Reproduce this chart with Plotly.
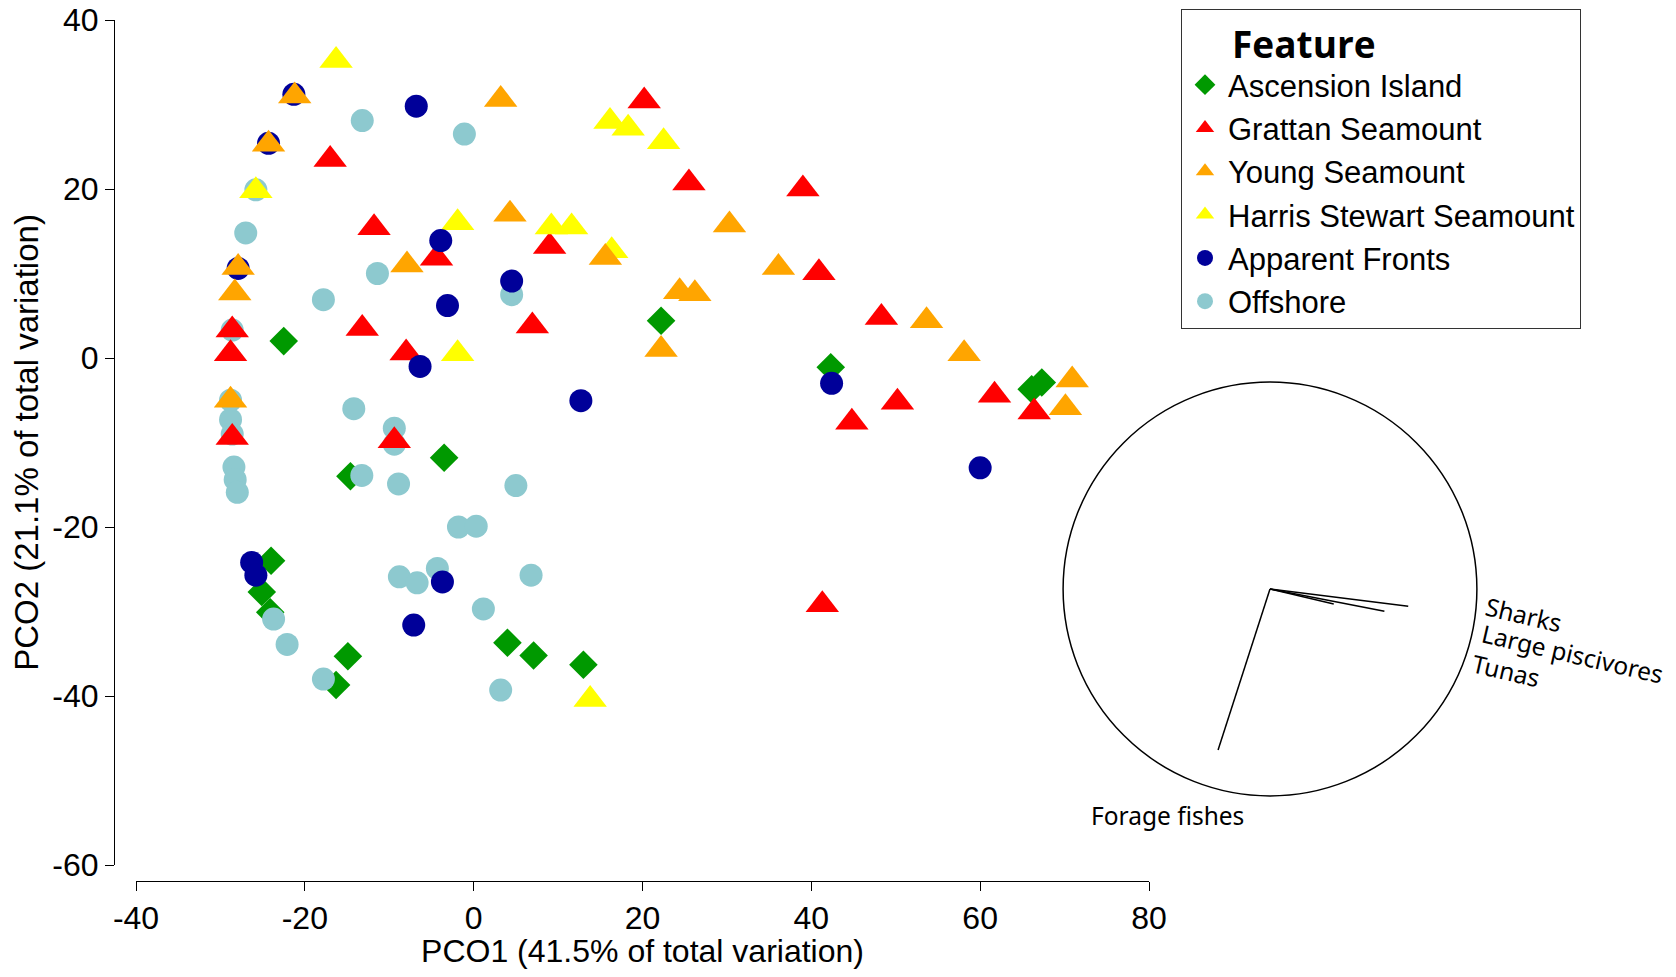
import plotly.graph_objects as go

# PCO scores per feature
ascension_x = [-22.5, 22.2, 42.3, 66.1, 67.3, -14.6, -3.5, -24.0, -25.1, -24.1, -14.9, -16.3, 4.0, 7.1, 13.0]
ascension_y = [2.0, 4.4, -1.1, -3.7, -2.9, -14.0, -11.8, -24.0, -27.7, -30.1, -35.3, -38.7, -33.7, -35.2, -36.3]

grattan_x = [20.2, 25.5, 39.0, 40.9, 48.3, 50.2, 61.7, 66.4, 44.8, 41.3, -17.0, -11.8, 9.0, -4.4,
             -13.2, 6.95, -28.6, -28.8, -8.0, -28.6, -9.4]
grattan_y = [30.4, 20.7, 20.0, 10.1, 4.8, -5.25, -4.4, -6.4, -7.6, -29.2, 23.5, 15.4, 13.2, 11.8,
             3.5, 3.8, 3.3, 0.5, 0.6, -9.4, -9.8]

young_x = [-21.2, -24.3, 3.2, 4.3, 30.3, -7.9, -27.9, -28.3, 15.6, 36.1, 24.4, 26.2, 22.2, 53.65,
           58.1, 70.9, 70.1, -28.8]
young_y = [31.0, 25.3, 30.6, 17.0, 15.75, 11.0, 10.7, 7.7, 11.9, 10.7, 7.85, 7.6, 1.0, 4.4,
           0.5, -2.6, -5.9, -5.0]

harris_x = [-16.3, 16.15, 18.3, 22.5, -25.8, -1.9, 9.2, 11.6, 16.35, -1.9, 13.8]
harris_y = [35.2, 28.0, 27.2, 25.6, 19.8, 16.0, 15.5, 15.5, 12.7, 0.5, -40.4]

fronts_x = [-21.3, -24.3, -6.8, -3.9, 4.5, -3.1, -27.9, -6.35, 12.7, 42.4, 60.0, -26.3, -25.8, -3.7, -7.1]
fronts_y = [31.2, 25.4, 29.8, 13.9, 9.1, 6.2, 10.6, -1.0, -5.05, -3.0, -13.0, -24.2, -25.7, -26.5, -31.6]

offshore_x = [-13.2, -1.1, -25.8, -27.0, -11.4, 4.5, -17.8, -28.6, -28.8, -28.8, -28.6, -14.2, -9.4,
              -9.4, -13.25, -8.9, 5.0, -28.4, -28.25, -28.0, -1.8, 0.3, -8.8, -6.7, -4.3, 6.8, 1.15,
              -23.7, -22.1, -17.8, 3.2]
offshore_y = [28.1, 26.5, 19.9, 14.8, 10.0, 7.5, 6.9, 3.3, -5.0, -7.3, -9.0, -6.0, -8.3,
              -10.2, -13.9, -14.9, -15.1, -12.9, -14.4, -15.9, -20.0, -19.9, -25.9, -26.6, -24.9, -25.7, -29.7,
              -30.9, -33.9, -38.0, -39.3]

# vector overlay (correlations with PCO axes)
vector_names = ["Sharks", "Large piscivores", "Tunas", "Forage fishes"]
vector_x = [0.668, 0.553, 0.308, -0.251]
vector_y = [-0.083, -0.108, -0.073, -0.778]

x_ticks = [-40, -20, 0, 20, 40, 60, 80]
x_ticktext = ["-40", "-20", "0", "20", "40", "60", "80"]
y_ticks = [-60, -40, -20, 0, 20, 40]
y_ticktext = ["-60", "-40", "-20", "0", "20", "40"]

# the page has an 8px body margin, so the figure is a bit smaller than the window
OFF = 8
W, H = 1676 - 2 * OFF, 977 - 2 * OFF
AXIS_FONT = "Liberation Sans, Arial, sans-serif"


def fx(page_x):
    return (page_x - OFF) / W


def fy(page_y):
    return 1 - (page_y - OFF) / H


groups = [
    # name, x, y, symbol, colour, size, legend rank
    ("Ascension Island", ascension_x, ascension_y, "diamond", "#009900", 22, 1),
    ("Offshore", offshore_x, offshore_y, "circle", "#8DC9CF", 23, 6),
    ("Grattan Seamount", grattan_x, grattan_y, "triangle-up", "#FF0000", 29, 2),
    ("Harris Stewart Seamount", harris_x, harris_y, "triangle-up", "#FFFF00", 29, 4),
    ("Apparent Fronts", fronts_x, fronts_y, "circle", "#000099", 23, 5),
    ("Young Seamount", young_x, young_y, "triangle-up", "#FFA500", 29, 3),
]

fig = go.Figure()
for name, xs, ys, symbol, colour, size, rank in groups:
    fig.add_trace(go.Scatter(
        x=xs, y=ys, mode="markers", name=name, legendrank=rank,
        marker=dict(symbol=symbol, color=colour, size=size, line=dict(width=0)),
        cliponaxis=False,
    ))

# vectors on their own invisible axes (unit circle centred at page (1270, 589), r = 207px)
cx, cy, rad = 1270, 589, 206.9
for vx, vy in zip(vector_x, vector_y):
    fig.add_trace(go.Scatter(
        x=[0, vx], y=[0, vy], mode="lines", xaxis="x2", yaxis="y2",
        line=dict(color="black", width=1.5), showlegend=False, hoverinfo="skip",
    ))

fig.add_shape(type="circle", xref="x2", yref="y2", x0=-1, x1=1, y0=-1, y1=1,
              line=dict(color="black", width=1.5))

label_pos = {
    "Sharks": (1.225, -0.125, 13),
    "Large piscivores": (1.462, -0.31, 13),
    "Tunas": (1.142, -0.395, 13),
    "Forage fishes": (-0.496, -1.096, 0),
}
for name in vector_names:
    lx, ly, ang = label_pos[name]
    fig.add_annotation(x=lx, y=ly, xref="x2", yref="y2", text=name, showarrow=False,
                       textangle=ang, font=dict(family="Noto Sans", size=24.5, color="black"))

axis_common = dict(
    showline=True, linecolor="black", linewidth=1, ticks="outside", ticklen=9,
    tickcolor="black", showgrid=False, zeroline=False, automargin=False,
    ticklabeloverflow="allow",
    tickfont=dict(family=AXIS_FONT, size=32, color="black"),
)

fig.update_layout(
    width=W, height=H, autosize=False,
    margin=dict(l=0, r=0, t=0, b=0, autoexpand=False),
    paper_bgcolor="white", plot_bgcolor="rgba(0,0,0,0)",
    xaxis=dict(
        domain=[fx(136), fx(1149)], range=[-40, 80], tickvals=x_ticks, ticktext=x_ticktext,
        anchor="free", position=fy(881),
        title=dict(text="PCO1 (41.5% of total variation)", standoff=12,
                   font=dict(family=AXIS_FONT, size=32, color="black")),
        **axis_common,
    ),
    yaxis=dict(
        domain=[fy(865), fy(20)], range=[-60, 40], tickvals=y_ticks, ticktext=y_ticktext,
        anchor="free", position=fx(114),
        title=dict(text="PCO2 (21.1% of total variation)", standoff=11,
                   font=dict(family=AXIS_FONT, size=33, color="black")),
        **axis_common,
    ),
    xaxis2=dict(domain=[fx(1005), 1.0],
                range=[(1005 - cx) / rad, (OFF + W - cx) / rad],
                visible=False, anchor="y2", automargin=False),
    yaxis2=dict(domain=[0.0, 1.0],
                range=[-(OFF + H - cy) / rad, (cy - OFF) / rad],
                visible=False, anchor="x2", automargin=False),
    legend=dict(
        x=fx(1181), y=0.999, xanchor="left", yanchor="top",
        bordercolor="#333333", borderwidth=1, bgcolor="white",
        font=dict(family=AXIS_FONT, size=31, color="black"),
        title=dict(text="\u00a0" * 5 + "Feature",
                   font=dict(family="Open Sans", size=37, color="black", weight="bold")),
        itemwidth=36, tracegroupgap=0,
    ),
    showlegend=True,
)

fig.write_html("out.html")
